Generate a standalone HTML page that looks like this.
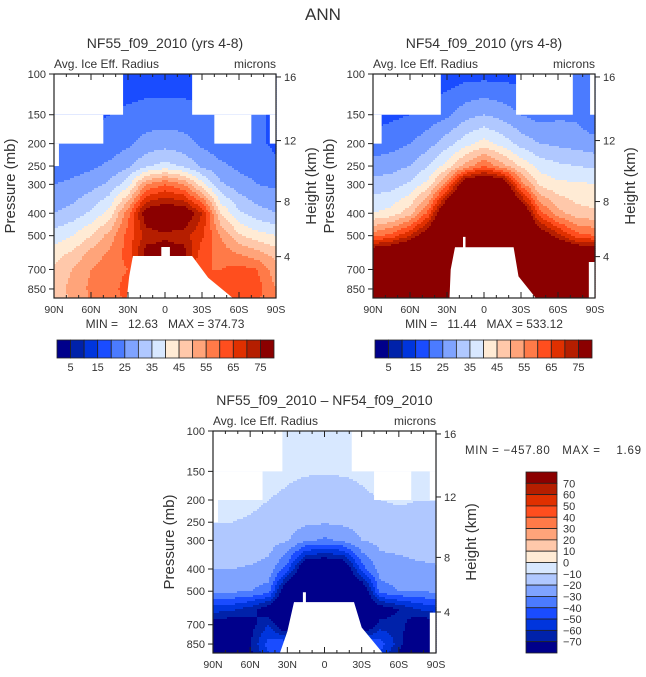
<!DOCTYPE html>
<html><head><meta charset="utf-8">
<style>
html,body{margin:0;padding:0;background:#fff;}
svg{display:block;font-family:"Liberation Sans",sans-serif;}
text{fill:#333;white-space:pre;}
</style></head>
<body>
<svg id="fig" width="646" height="677" viewBox="0 0 646 677" xmlns="http://www.w3.org/2000/svg" xml:space="preserve">
<text x="323" y="20" font-size="17" text-anchor="middle">ANN</text>
</svg>
<script>
// ---- data ----
const lats = [90,75,60,45,30,15,0,-15,-30,-45,-60,-75,-90];
const pLevels = [100,150,200,250,300,400,500,600,700,850,1000];
const panel1Values = [
 [17,17,17,17,17,17,17,17,17,17,17,17,17],
 [19,19,19,20,21,22,22,22,21,20,22,22,18],
 [21,21,21,22,24,27,28,27,24,22,22,21,19],
 [22,23,24,26,29,34,37,34,29,26,24,23,21],
 [25,26,28,31,38,55,60,55,42,31,27,25,24],
 [30,32,36,42,58,80,82,82,70,45,36,32,30],
 [37,40,45,52,62,72,74,72,66,55,46,42,40],
 [43,46,52,56,62,78,78,78,62,58,55,52,48],
 [46,50,55,58,60,60,60,60,60,60,62,60,52],
 [47,52,56,58,62,60,60,60,62,60,65,62,55],
 [45,50,55,58,60,60,60,60,60,60,62,60,55]];
const panel2Values = [
 [14,14,15,16,17,18,18,18,18,18,19,22,20],
 [18,19,20,22,24,28,30,28,25,23,24,24,20],
 [22,23,25,28,33,38,42,38,33,30,29,28,27],
 [27,28,30,35,42,52,60,52,44,38,36,35,34],
 [32,33,36,42,58,85,90,85,58,44,41,41,40],
 [40,42,48,62,90,99,99,99,88,62,52,47,46],
 [58,62,70,82,99,99,99,99,99,82,72,62,60],
 [85,88,92,99,99,99,99,99,99,99,92,88,85],
 [99,99,99,99,99,99,99,99,99,99,99,99,99],
 [99,99,99,99,99,99,99,99,99,99,99,99,99],
 [99,99,99,99,99,99,99,99,99,99,99,99,99]];
const panel3Values = [
 [-5,-5,-5,-5,-5,-5,-5,-5,-5,-5,-5,-5,-5],
 [-5,-5,-5,-6,-8,-9,-9,-9,-8,-6,-5,-6,-5],
 [-7,-7,-8,-10,-12,-15,-16,-15,-12,-10,-9,-10,-10],
 [-10,-10,-11,-13,-16,-18,-19,-18,-16,-14,-13,-12,-11],
 [-13,-13,-14,-16,-19,-28,-32,-28,-20,-17,-16,-15,-15],
 [-20,-20,-21,-23,-45,-90,-95,-90,-45,-25,-24,-22,-21],
 [-28,-28,-30,-35,-90,-95,-95,-95,-90,-35,-30,-30,-28],
 [-55,-58,-65,-80,-95,-95,-95,-95,-95,-80,-70,-60,-55],
 [-80,-80,-75,-60,-90,-95,-95,-95,-90,-65,-65,-80,-80],
 [-90,-90,-70,-45,-40,-90,-95,-90,-40,-45,-65,-90,-90],
 [-90,-90,-75,-55,-55,-90,-95,-90,-55,-55,-75,-90,-90]];
const levelsAbs = [5,10,15,20,25,30,35,40,45,50,55,60,65,70,75];
const levelsDiff = [-70,-60,-50,-40,-30,-20,-10,0,10,20,30,40,50,60,70];
const absTickLabels = ["5","15","25","35","45","55","65","75"];
const diffTickLabels = ["70","60","50","40","30","20","10","0","-10","-20","-30","-40","-50","-60","-70"];
const pressureTicks = [100,150,200,250,300,400,500,700,850];
const latTicks = [90,60,30,0,-30,-60,-90];
const latTickLabels = ["90N","60N","30N","0","30S","60S","90S"];
const kmTicks = ["16","12","8","4"];
const kmPressures = [103,194,356,616];
const colors = ["#00008b","#0022aa","#0035dd","#1a4cff","#4b7bff","#7fa3ff","#b0c8ff","#d8e8ff","#ffebd5","#ffc8aa","#ffa47a","#ff7a48","#ff4e1e","#e03000","#b51e00","#8b0000"];

const NS="http://www.w3.org/2000/svg";
const fig=document.getElementById('fig');
function mk(tag,attrs,parent){const e=document.createElementNS(NS,tag);for(const k in attrs)e.setAttribute(k,attrs[k]);(parent||fig).appendChild(e);return e;}
function txt(x,y,s,size,anchor,parent,extra){const t=mk('text',Object.assign({x:x,y:y,'font-size':size,'text-anchor':anchor||'start'},extra||{}),parent);t.textContent=s;return t;}

function drawPanel(cfg){
  const g=mk('g',{});
  
  
  const {x0,y0,W,H}=cfg; const pBot=930;
  const xOf=lat=>x0+(90-lat)/180*W;
  const yOf=p=>y0+Math.log(p/100)/Math.log(pBot/100)*H;
  const latOf=x=>90-(x-x0)/W*180;
  const pOf=y=>100*Math.exp((y-y0)/H*Math.log(pBot/100));
  const lnP=pLevels.map(p=>Math.log(p));
  function val(lat,p){
    let fi=(90-lat)/15; fi=Math.max(0,Math.min(12-1e-6,fi));
    const i=Math.floor(fi),a=fi-i; const lp=Math.log(p);
    let j=0; while(j<pLevels.length-2&&lp>lnP[j+1])j++;
    let b=(lp-lnP[j])/(lnP[j+1]-lnP[j]); b=Math.max(0,Math.min(1,b));
    const v=cfg.values;
    return (1-b)*((1-a)*v[j][i]+a*v[j][i+1])+b*((1-a)*v[j+1][i]+a*v[j+1][i+1]);
  }
  function colIdx(v){let k=0;for(const l of cfg.levels)if(v>=l)k++;return k;}
  const field=mk('g',{},g);
  
  
  const st=2;
  for(let y=y0;y<y0+H;y+=st){
    const p=pOf(y+st/2); let runStart=x0, runC=-1;
    for(let x=x0;x<x0+W+st;x+=st){
      const c = x<x0+W ? colIdx(val(latOf(x+st/2),p)) : -2;
      if(c!==runC){
        if(runC>=0){mk('rect',{x:runStart,y:y,width:Math.min(x,x0+W)-runStart+0.6,height:Math.min(st+0.6,y0+H-y),fill:colors[runC]},field);}
        runStart=x; runC=c;
      }
    }
  }
  for(const m of cfg.rects){
    const r=mk('rect',{x:xOf(m[0]),y:yOf(m[2]),width:xOf(m[1])-xOf(m[0]),height:Math.min(yOf(m[3]),y0+H)-yOf(m[2]),fill:'#fff'},g);
    
    
  }
  const pts=cfg.mountain.map(q=>xOf(q[0]).toFixed(1)+','+Math.min(yOf(q[1]),y0+H).toFixed(1)).join(' ');
  const mt=mk('polygon',{points:pts,fill:'#fff'},g);
  
  
  const fr=mk('rect',{x:x0,y:y0,width:W,height:H,fill:'none',stroke:'#222','stroke-width':1.2},g);
  
  
  for(const p of pressureTicks){
    const y=yOf(p);
    mk('line',{x1:x0-5,y1:y,x2:x0,y2:y,stroke:'#222'},g);
    const t=txt(x0-8,y+4,String(p),11,'end',g);
    
    
  }
  kmTicks.forEach((k,i)=>{
    const y=yOf(kmPressures[i]);
    mk('line',{x1:x0+W,y1:y,x2:x0+W+5,y2:y,stroke:'#222'},g);
    const t=txt(x0+W+8,y+4,k,11,'start',g);
    
    
  });
  for(let lat=90;lat>=-90;lat-=10){
    const x=xOf(lat); const major=lat%30===0;
    mk('line',{x1:x,y1:y0+H,x2:x,y2:y0+H-(major?6:3),stroke:'#222'},g);
    mk('line',{x1:x,y1:y0,x2:x,y2:y0+(major?6:3),stroke:'#222'},g);
  }
  latTicks.forEach((lat,i)=>{
    const t=txt(xOf(lat),y0+H+15,latTickLabels[i],10.5,'middle',g);
    
    
  });
  const yt=txt(0,0,'Pressure (mb)',15,'middle',g,{transform:`translate(${x0-39},${y0+H/2}) rotate(-90)`,fill:'#555'});
  
  
  const rt=txt(0,0,'Height (km)',15,'middle',g,{transform:`translate(${x0+W+40},${y0+H/2}) rotate(-90)`,fill:'#555'});
  
  
  const ti=txt(x0+W/2,y0-26,cfg.title,14,'middle',g);
  
  
  const vl=txt(x0,y0-6,'Avg. Ice Eff. Radius',12,'start',g);
  
  
  const un=txt(x0+W,y0-6,'microns',12,'end',g);
  
  
}

const topRects=[[90,34,100,150],[-22,-90,100,150],[90,50,150,200],[-40,-70,150,200],[-85,-90,150,200],[90,86,200,250]];
drawPanel({name:'panel-nf55',x0:54,y0:74,W:222,H:224,values:panel1Values,levels:levelsAbs,title:'NF55_f09_2010 (yrs 4-8)',
  rects:topRects,
  mountain:[[31,1000],[29,750],[26,612],[3,612],[3,560],[-4,560],[-4,612],[-22,612],[-35,760],[-55,1000]]});
drawPanel({name:'panel-nf54',x0:373,y0:74,W:222,H:224,values:panel2Values,levels:levelsAbs,title:'NF54_f09_2010 (yrs 4-8)',
  rects:[[90,35,100,150],[-26,-72,100,150],[-86,-90,100,150],[90,83,150,200],[-85,-90,650,1000]],
  mountain:[[28,1000],[27,700],[23.5,561],[17,561],[17,506],[15,506],[15,561],[-24,561],[-28,750],[-42,1000]]});
drawPanel({name:'panel-difference',x0:213,y0:431,W:223,H:222,values:panel3Values,levels:levelsDiff,title:'NF55_f09_2010 \u2013 NF54_f09_2010',
  rects:topRects.concat([[-85,-90,620,1000]]),
  mountain:[[36,1000],[30,750],[24.6,558],[17.4,558],[17.4,505],[15,505],[15,558],[-23.8,558],[-30,720],[-47,1000]]});

[[165,328,'MIN =   12.63   MAX = 374.73'],[484,328,'MIN =   11.44   MAX = 533.12']].forEach(s=>{
  const t=txt(s[0],s[1],s[2],12,'middle');
  
  
});
const st3=txt(465,454,'MIN = \u2212457.80   MAX =    1.69',11.5,'start',null,{textLength:176,lengthAdjust:'spacing'});



function hbar(x0,name){
  const g=mk('g',{});  
  const w=217/16;
  colors.forEach((c,i)=>{
    const r=mk('rect',{x:x0+i*w,y:340,width:w,height:18,fill:c,stroke:'#222','stroke-width':0.8},g);
    
    
  });
  absTickLabels.forEach((s,k)=>{
    const t=txt(x0+(2*k+1)*w,371,s,11,'middle',g);
    
    
  });
}
hbar(57,'colorbar-nf55');
hbar(375,'colorbar-nf54');
(function(){
  const g=mk('g',{});  
  const h=181/16;
  colors.slice().reverse().forEach((c,i)=>{
    const r=mk('rect',{x:526,y:472+i*h,width:31,height:h,fill:c,stroke:'#222','stroke-width':0.8},g);
    
    
  });
  diffTickLabels.forEach((s,k)=>{
    const t=txt(563,472+(k+1)*h+4,s.replace('-','\u2212'),11,'start',g);
    
    
  });
})();
</script>
</body></html>
